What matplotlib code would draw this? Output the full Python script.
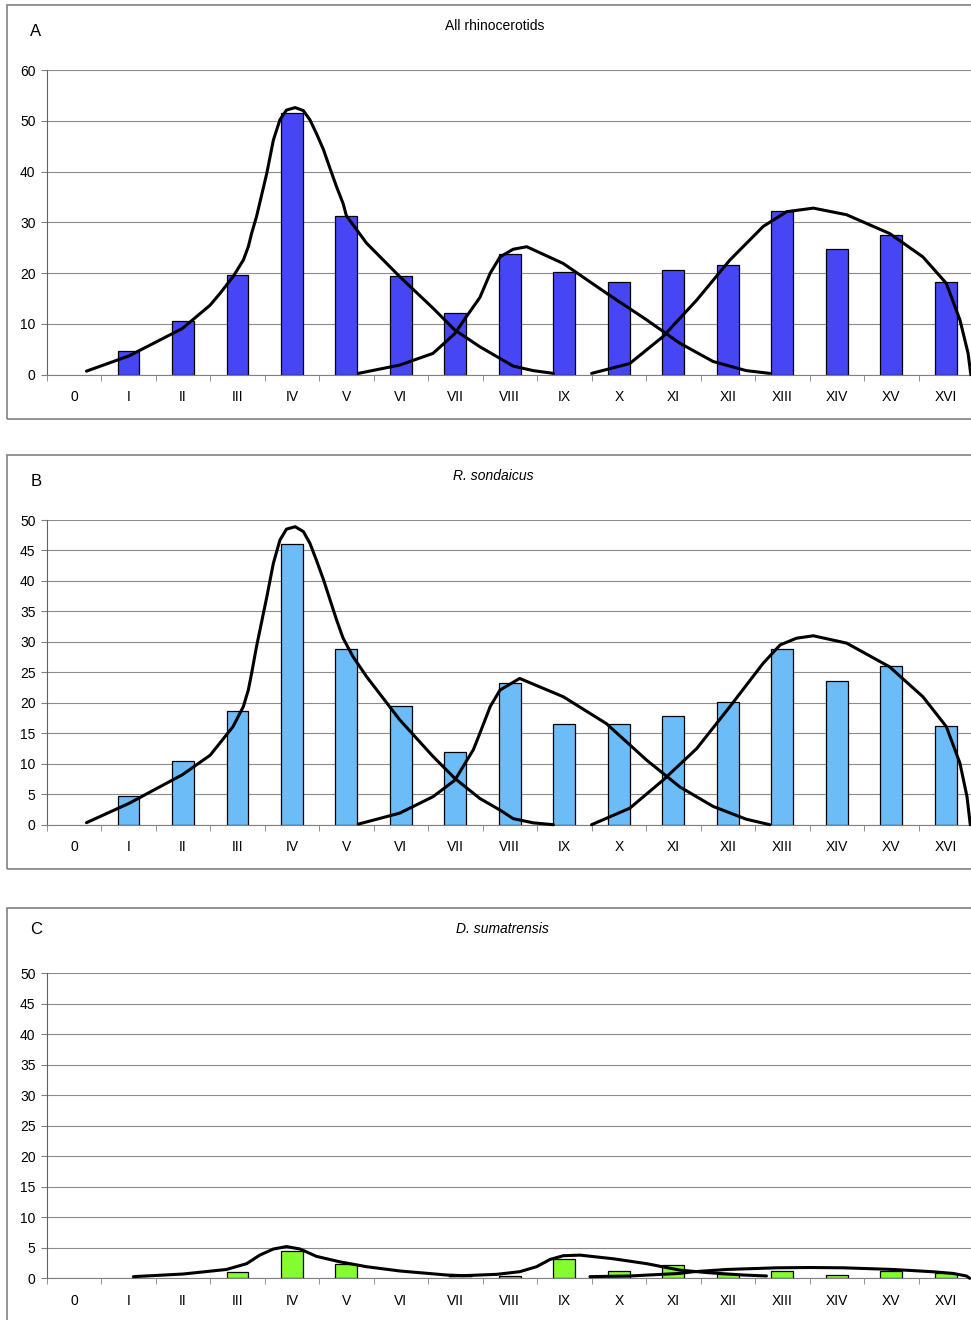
import numpy as np
import matplotlib
matplotlib.use("Agg")
import matplotlib.pyplot as plt
from matplotlib.patches import Rectangle

plt.rcParams['font.family'] = ['Liberation Sans', 'DejaVu Sans']

# class labels on the x axis
categories = ['0', 'I', 'II', 'III', 'IV', 'V', 'VI', 'VII', 'VIII', 'IX',
              'X', 'XI', 'XII', 'XIII', 'XIV', 'XV', 'XVI']

# bar heights
all_vals = [0, 4.6, 10.5, 19.7, 51.5, 31.3, 19.4, 12.1, 23.8, 20.2,
            18.3, 20.6, 21.7, 32.2, 24.8, 27.5, 18.3]
sond_vals = [0, 4.7, 10.4, 18.6, 46.1, 28.8, 19.4, 11.9, 23.2, 16.6,
             16.6, 17.9, 20.2, 28.9, 23.6, 26.0, 16.2]
suma_vals = [0, 0, 0, 1.1, 4.5, 2.4, 0, 0, 0.4, 3.2,
             1.25, 2.15, 0.7, 1.25, 0.55, 1.25, 0.9]

# fitted curves (x in category units)
a_c1_x = [0.23, 1.01, 1.99, 2.5, 2.68, 2.92, 3.11, 3.2, 3.26, 3.35, 3.54, 3.66, 3.78, 3.9,
          4.06, 4.21, 4.33, 4.45, 4.58, 4.7, 4.82, 4.94, 5.0, 5.37, 5.98, 6.59, 6.99,
          7.45, 7.82, 8.06, 8.43, 8.8]
a_c1_y = [0.7, 3.7, 9.1, 13.7, 16.0, 19.3, 22.6, 25.2, 27.8, 31.1, 39.7, 46.2, 50.2, 52.1,
          52.6, 52.0, 50.2, 47.5, 44.3, 40.6, 37.0, 33.7, 31.3, 25.9, 19.3, 13.1, 8.8,
          5.5, 3.2, 1.7, 0.8, 0.26]
a_c2_x = [5.22, 5.98, 6.59, 6.99, 7.2, 7.45, 7.64, 7.82, 8.06, 8.31, 8.98, 9.78, 10.51,
          11.12, 11.73, 12.34, 12.77]
a_c2_y = [0.26, 1.9, 4.2, 8.1, 11.4, 15.2, 20.0, 23.2, 24.7, 25.2, 21.9, 16.0, 10.8,
          6.2, 2.6, 0.8, 0.26]
a_c3_x = [9.5, 10.2, 10.81, 11.43, 12.04, 12.65, 13.08, 13.57, 14.18, 14.97, 15.58,
          16.01, 16.26, 16.41, 16.46]
a_c3_y = [0.26, 2.2, 7.5, 14.7, 22.6, 29.2, 32.1, 32.8, 31.5, 27.8, 23.2,
          18.0, 10.8, 4.2, 0]

b_c1_x = [0.23, 1.01, 1.99, 2.5, 2.92, 3.11, 3.2, 3.26, 3.35, 3.54, 3.66, 3.78, 3.9,
          4.06, 4.21, 4.33, 4.45, 4.58, 4.7, 4.82, 4.94, 5.12, 5.37, 5.98, 6.59, 6.99,
          7.45, 7.82, 8.06, 8.43, 8.8]
b_c1_y = [0.33, 3.5, 8.2, 11.4, 16.1, 19.4, 22.1, 24.8, 29.2, 37.4, 42.9, 46.7, 48.5,
          48.9, 48.1, 46.2, 43.4, 40.2, 36.9, 33.6, 30.6, 27.6, 24.3, 17.2, 11.2, 7.6,
          4.3, 2.4, 1.0, 0.3, 0]
b_c2_x = [5.22, 5.98, 6.59, 6.99, 7.33, 7.45, 7.64, 7.82, 8.18, 8.98, 9.77, 10.51,
          11.12, 11.73, 12.34, 12.77]
b_c2_y = [0.1, 1.9, 4.6, 7.3, 12.3, 15.0, 19.4, 22.1, 24.0, 21.0, 16.6, 10.6,
          6.2, 3.0, 0.9, 0]
b_c3_x = [9.5, 10.2, 10.81, 11.43, 12.04, 12.65, 12.96, 13.26, 13.57, 14.18, 14.97,
          15.58, 16.01, 16.26, 16.39, 16.45]
b_c3_y = [0, 2.7, 7.3, 12.5, 19.4, 26.5, 29.5, 30.6, 31.0, 29.8, 25.9,
          21.0, 16.1, 10.1, 4.6, 0]

c_c1_x = [1.09, 2.0, 2.8, 3.17, 3.41, 3.66, 3.9, 4.15, 4.45, 4.88, 5.37, 5.98, 6.84, 7.14, 7.3]
c_c1_y = [0.27, 0.7, 1.45, 2.4, 3.8, 4.8, 5.2, 4.8, 3.6, 2.7, 1.9, 1.2, 0.54, 0.43, 0.42]
c_c2_x = [6.9, 7.14, 7.76, 8.18, 8.49, 8.74, 8.98, 9.29, 9.9, 10.51, 11.12, 11.67, 12.28, 12.71]
c_c2_y = [0.4, 0.43, 0.65, 1.08, 1.9, 3.1, 3.7, 3.8, 3.2, 2.4, 1.34, 0.9, 0.54, 0.38]
c_c3_x = [9.47, 10.2, 11.12, 11.36, 11.98, 12.9, 13.5, 14.12, 15.03, 15.77, 16.13, 16.38, 16.44]
c_c3_y = [0.27, 0.38, 0.8, 1.07, 1.45, 1.72, 1.77, 1.72, 1.45, 1.07, 0.8, 0.38, 0]

W, H = 971, 1320
fig = plt.figure(figsize=(W / 100, H / 100), dpi=100)

panels = [
    dict(letter='A', title='All rhinocerotids', style='normal', vals=all_vals,
         color='#4646F5', ymax=60, step=10,
         curves=[(a_c1_x, a_c1_y), (a_c2_x, a_c2_y), (a_c3_x, a_c3_y)],
         frame=(5, 419), plot=(70, 374.7), letter_y=31, title_xy=(495, 26)),
    dict(letter='B', title='R. sondaicus', style='italic', vals=sond_vals,
         color='#6CBCF8', ymax=50, step=5,
         curves=[(b_c1_x, b_c1_y), (b_c2_x, b_c2_y), (b_c3_x, b_c3_y)],
         frame=(455, 869), plot=(520, 824.7), letter_y=481, title_xy=(493, 476)),
    dict(letter='C', title='D. sumatrensis', style='italic', vals=suma_vals,
         color='#84FC2E', ymax=50, step=5,
         curves=[(c_c1_x, c_c1_y), (c_c2_x, c_c2_y), (c_c3_x, c_c3_y)],
         frame=(908, 1335), plot=(973.3, 1278.3), letter_y=930, title_xy=(502, 929)),
]

x = np.arange(len(categories))

for p in panels:
    ftop, fbot = p['frame']
    fig.patches.append(Rectangle((7 / W, 1 - fbot / H), (990 - 7) / W, (fbot - ftop) / H,
                                 transform=fig.transFigure, fill=False,
                                 edgecolor='#808080', linewidth=1.2))
    fig.text(36 / W, 1 - p['letter_y'] / H, p['letter'], ha='center', va='center',
             fontsize=12)
    tx, ty = p['title_xy']
    fig.text(tx / W, 1 - ty / H, p['title'], ha='center', va='center',
             fontsize=10, style=p['style'])

    ptop, pbot = p['plot']
    ax = fig.add_axes([46.7 / W, 1 - pbot / H, (973 - 46.7) / W, (pbot - ptop) / H])
    # empty classes get no outline
    edges = ['black' if v > 0 else 'none' for v in p['vals']]
    ax.bar(x, p['vals'], width=0.4, color=p['color'], edgecolor=edges,
           linewidth=0.9, zorder=2)
    for cx, cy in p['curves']:
        ax.plot(cx, cy, color='black', linewidth=2.2, zorder=3,
                solid_capstyle='round', solid_joinstyle='round', clip_on=False)

    ax.set_xlim(-0.5, 16.5)
    ax.set_ylim(0, p['ymax'])
    ax.set_yticks(range(0, p['ymax'] + 1, p['step']))
    ax.set_xticks(x)
    ax.set_xticklabels(categories)
    ax.set_xticks(np.arange(-0.5, 17, 1), minor=True)
    ax.yaxis.grid(True, color='#8c8c8c', linewidth=0.8)
    ax.set_axisbelow(True)
    ax.tick_params(axis='x', which='major', length=0, pad=11, labelsize=10)
    ax.tick_params(axis='x', which='minor', length=4, color='#808080')
    ax.tick_params(axis='y', length=4, color='#808080', pad=4, labelsize=10)
    ax.spines['top'].set_visible(False)
    ax.spines['right'].set_visible(False)
    ax.spines['left'].set_color('#606060')
    ax.spines['bottom'].set_color('#808080')
    ax.patch.set_alpha(0)

fig.savefig('out.png', dpi=100)
plt.close(fig)
